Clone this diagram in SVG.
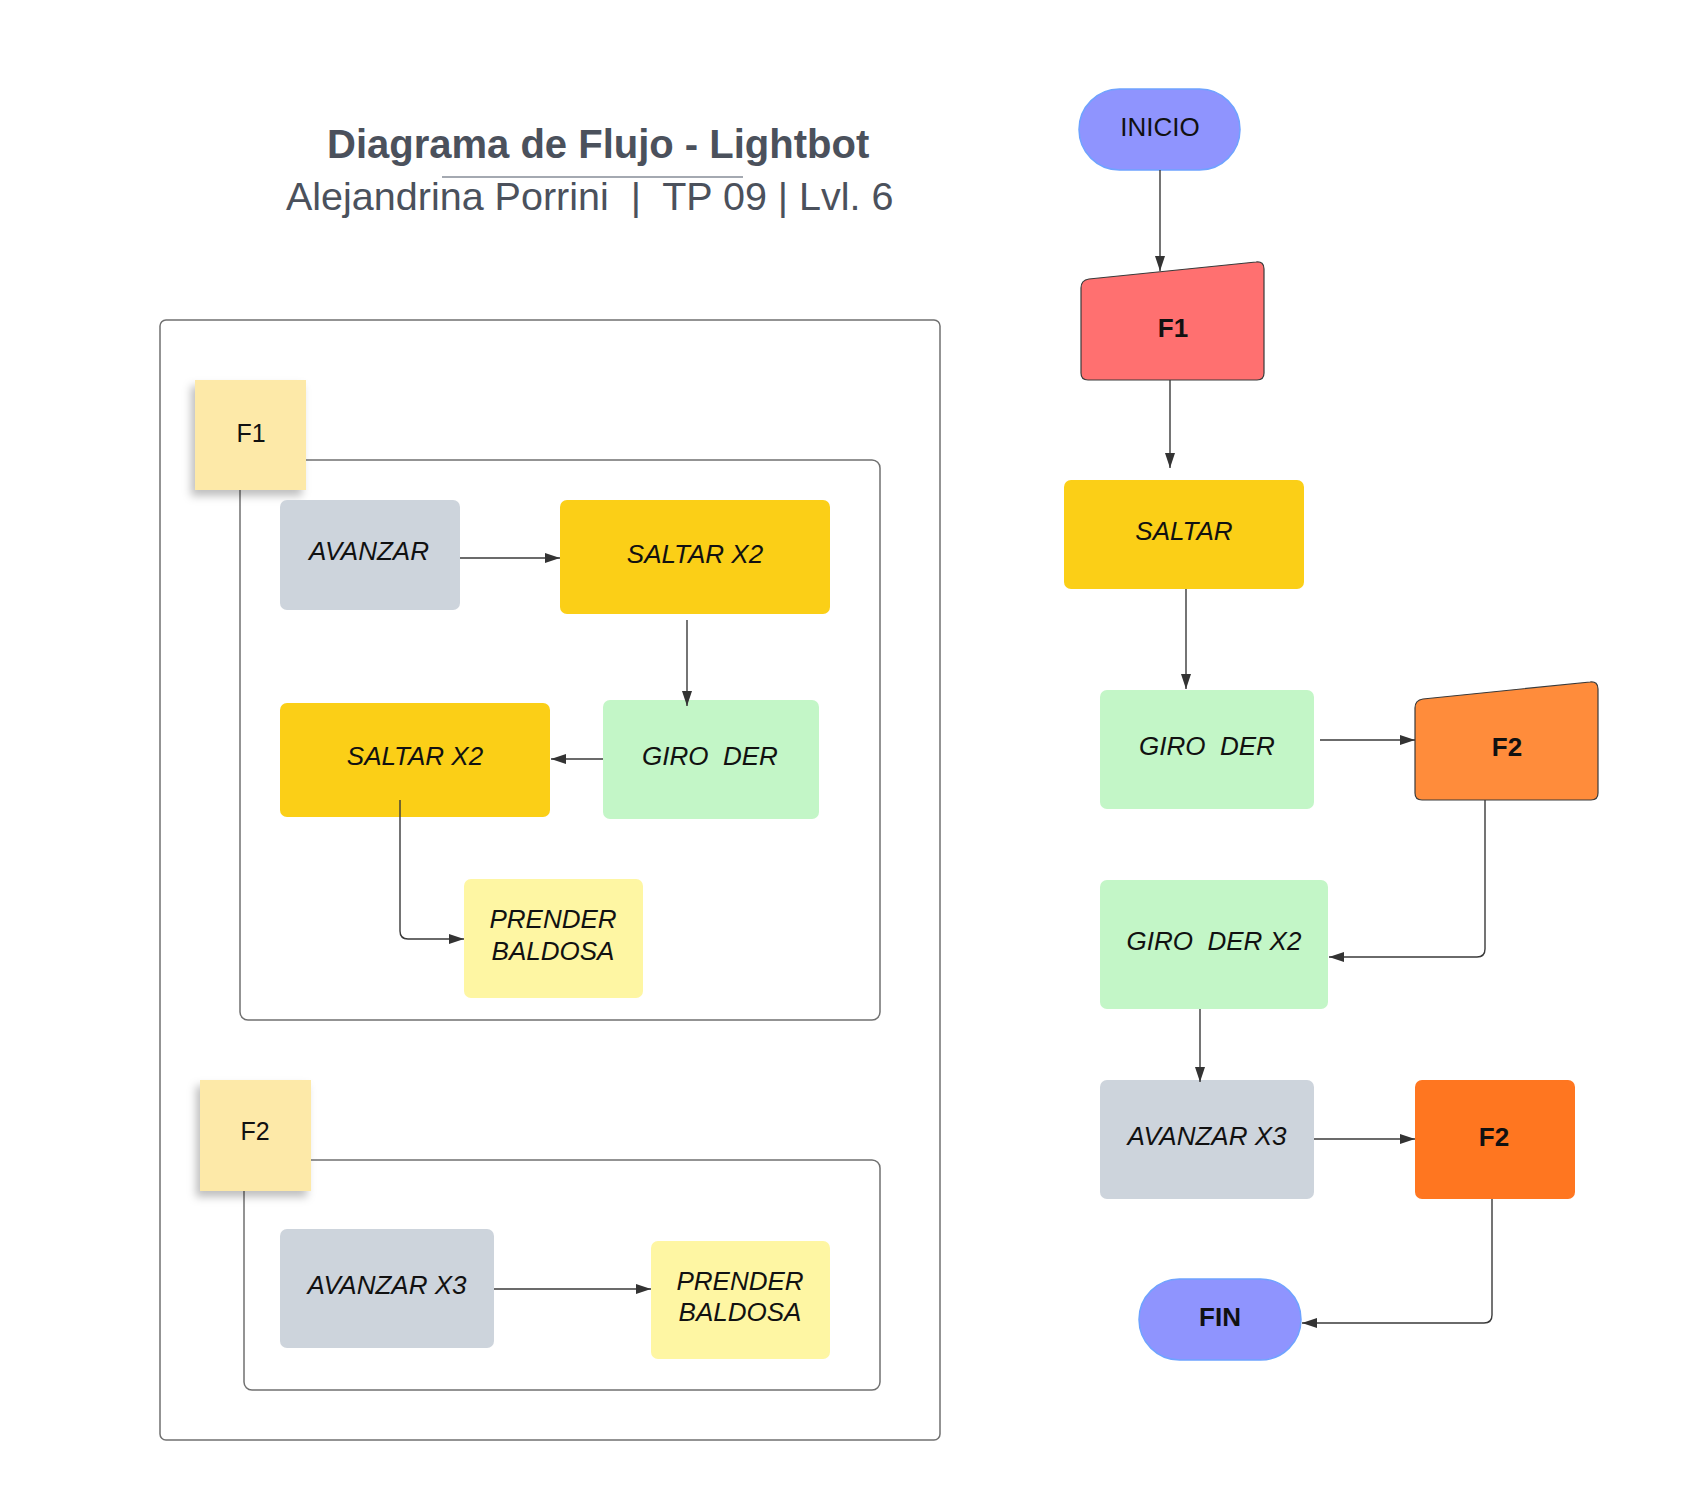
<svg xmlns="http://www.w3.org/2000/svg" width="1708" height="1506" viewBox="0 0 1708 1506">
<style>
.title{font-family:"Liberation Sans",Arial,sans-serif;font-weight:bold;font-size:40px;fill:#4b515c}
.sub{font-family:"Liberation Sans",Arial,sans-serif;font-size:39.5px;fill:#4b515c}
.frame{fill:none;stroke:#707070;stroke-width:1.5}
.sticky{fill:#fde9a8}
.lbl{font-family:"Liberation Sans",Arial,sans-serif;font-style:italic;font-size:26px;fill:#111;text-anchor:middle}
.stk{font-family:"Liberation Sans",Arial,sans-serif;font-size:25px;fill:#111;text-anchor:middle}
.geo{font-family:"Liberation Sans",Arial,sans-serif;font-size:26px;fill:#111;text-anchor:middle}
.geob{font-family:"Liberation Sans",Arial,sans-serif;font-weight:bold;font-size:26px;fill:#111;text-anchor:middle}
.grey{fill:#cdd4dc}
.yellow{fill:#fbcf17}
.green{fill:#c3f6c7}
.lyellow{fill:#fef6a3}
.term{fill:#8f94fe;stroke:#6fa3ff;stroke-width:1.5}
.conn path{fill:none;stroke:#3a3a3a;stroke-width:1.4;marker-end:url(#arrow)}
</style>
<defs>
<marker id="arrow" viewBox="0 0 15 10" refX="15" refY="5" markerWidth="15" markerHeight="10" markerUnits="userSpaceOnUse" orient="auto">
<path d="M0,0 L15,5 L0,10 z" fill="#333"/>
</marker>
<filter id="shadow" x="-30%" y="-30%" width="160%" height="160%">
<feDropShadow dx="-4" dy="6" stdDeviation="4" flood-color="#000" flood-opacity="0.25"/>
</filter>
</defs>
<rect width="1708" height="1506" fill="#fff"/>

<g id="title">
<text class="title" x="327" y="158">Diagrama de Flujo - Lightbot</text>
<line x1="442" y1="177" x2="743" y2="177" stroke="#a4a9b1" stroke-width="2"/>
<text class="sub" x="286" y="210" xml:space="preserve">Alejandrina Porrini  |  TP 09 | Lvl. 6</text>
</g>

<g id="frames">
<rect class="frame" x="160" y="320" width="780" height="1120" rx="6"/>
<rect class="frame" x="240" y="460" width="640" height="560" rx="8"/>
<rect class="frame" x="244" y="1160" width="636" height="230" rx="8"/>
</g>

<g id="sticky-f1">
<rect class="sticky" x="195" y="380" width="111" height="110" filter="url(#shadow)"/>
<text class="stk" x="251" y="442">F1</text>
</g>
<g id="sticky-f2">
<rect class="sticky" x="200" y="1080" width="111" height="111" filter="url(#shadow)"/>
<text class="stk" x="255" y="1140">F2</text>
</g>

<g id="f1-avanzar">
<rect class="grey" x="280" y="500" width="180" height="110" rx="7"/>
<text class="lbl" x="369" y="560">AVANZAR</text>
</g>
<g id="f1-saltar1">
<rect class="yellow" x="560" y="500" width="270" height="114" rx="7"/>
<text class="lbl" x="695" y="563">SALTAR X2</text>
</g>
<g id="f1-giro">
<rect class="green" x="603" y="700" width="216" height="119" rx="7"/>
<text class="lbl" x="710" y="765" xml:space="preserve">GIRO  DER</text>
</g>
<g id="f1-saltar2">
<rect class="yellow" x="280" y="703" width="270" height="114" rx="7"/>
<text class="lbl" x="415" y="765">SALTAR X2</text>
</g>
<g id="f1-prender">
<rect class="lyellow" x="464" y="879" width="179" height="119" rx="7"/>
<text class="lbl" x="553" y="928">PRENDER</text>
<text class="lbl" x="553" y="960">BALDOSA</text>
</g>

<g id="f2-avanzar">
<rect class="grey" x="280" y="1229" width="214" height="119" rx="7"/>
<text class="lbl" x="387" y="1294">AVANZAR X3</text>
</g>
<g id="f2-prender">
<rect class="lyellow" x="651" y="1241" width="179" height="118" rx="7"/>
<text class="lbl" x="740" y="1290">PRENDER</text>
<text class="lbl" x="740" y="1321">BALDOSA</text>
</g>

<g id="inicio">
<rect class="term" x="1079" y="89" width="161" height="81" rx="40.5"/>
<text class="geo" x="1160" y="136">INICIO</text>
</g>
<g id="call-f1">
<path d="M1081,288 Q1081,280 1089,279 L1256,262 Q1264,261 1264,269 L1264,373 Q1264,380 1257,380 L1088,380 Q1081,380 1081,373 Z" fill="#ff7070" stroke="#3a3a3a" stroke-width="1.2"/>
<text class="geob" x="1173" y="337">F1</text>
</g>
<g id="saltar">
<rect class="yellow" x="1064" y="480" width="240" height="109" rx="7"/>
<text class="lbl" x="1184" y="540">SALTAR</text>
</g>
<g id="giro-der">
<rect class="green" x="1100" y="690" width="214" height="119" rx="7"/>
<text class="lbl" x="1207" y="755" xml:space="preserve">GIRO  DER</text>
</g>
<g id="call-f2-a">
<path d="M1415,708 Q1415,700 1423,699 L1590,682 Q1598,681 1598,689 L1598,793 Q1598,800 1591,800 L1422,800 Q1415,800 1415,793 Z" fill="#ff8c3b" stroke="#3a3a3a" stroke-width="1.2"/>
<text class="geob" x="1507" y="756">F2</text>
</g>
<g id="giro-der-x2">
<rect class="green" x="1100" y="880" width="228" height="129" rx="7"/>
<text class="lbl" x="1214" y="950" xml:space="preserve">GIRO  DER X2</text>
</g>
<g id="avanzar-x3">
<rect class="grey" x="1100" y="1080" width="214" height="119" rx="7"/>
<text class="lbl" x="1207" y="1145">AVANZAR X3</text>
</g>
<g id="call-f2-b">
<rect x="1415" y="1080" width="160" height="119" rx="7" fill="#ff7620"/>
<text class="geob" x="1494" y="1146">F2</text>
</g>
<g id="fin">
<rect class="term" x="1139" y="1279" width="162" height="81" rx="40.5"/>
<text class="geob" x="1220" y="1326">FIN</text>
</g>

<g id="connectors" class="conn">
<path d="M460,558 H560"/>
<path d="M687,620 V706"/>
<path d="M603,759 H551"/>
<path d="M400,800 V931 Q400,939 408,939 H464"/>
<path d="M494,1289 H651"/>
<path d="M1160,170 V271"/>
<path d="M1170,380 V468"/>
<path d="M1186,589 V689"/>
<path d="M1320,740 H1415"/>
<path d="M1485,800 V949 Q1485,957 1477,957 H1329"/>
<path d="M1200,1009 V1082"/>
<path d="M1314,1139 H1415"/>
<path d="M1492,1199 V1315 Q1492,1323 1484,1323 H1302"/>
</g>
</svg>
